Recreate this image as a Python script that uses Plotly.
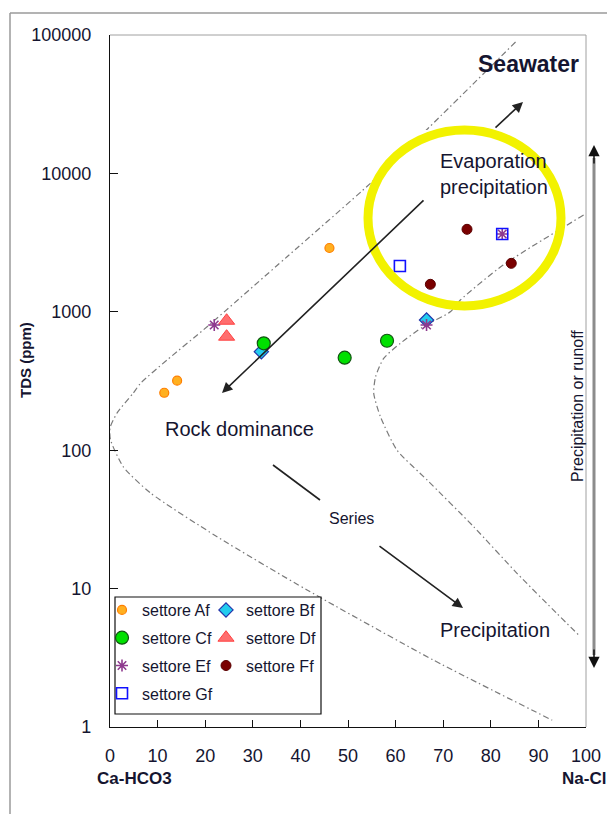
import plotly.graph_objects as go

# ---------------- data ----------------
af_x = [11.4, 14.1, 46.1]
af_y = [260, 318, 2890]
bf_x = [31.8, 66.5]
bf_y = [515, 873]
cf_x = [32.3, 49.3, 58.2]
cf_y = [592, 466, 618]
df_x = [24.5, 24.5]
df_y = [862, 661]
ef_x = [21.9, 66.5, 82.4]
ef_y = [803, 803, 3648]
ff_x = [75.0, 84.3, 67.3]
ff_y = [3945, 2240, 1580]
gf_x = [60.9, 82.4]
gf_y = [2143, 3648]

# Gibbs boundary curves
left_x = [85.2, 66.9, 54.7, 37.2, 20.4, 12.0, 6.4, 4.9, 1.5, 0.0, 0.1, 2.8, 8.5, 22.5, 41.4, 67.9, 92.9]
left_y = [89000, 21300, 8470, 2500, 780, 449, 304, 259, 186, 145, 119, 75.7, 49.1, 23.7, 9.77, 3.05, 1.12]
right_x = [99.5, 82.6, 73.6, 71.5, 65.8, 61.0, 57.5, 55.8, 55.4, 56.8, 60.3, 66.6, 76.4, 85.5, 93.9, 98.8]
right_y = [5000, 2178, 1216, 1000, 780, 592, 461, 340, 258, 175, 100, 61, 28, 12.9, 6.6, 4.5]

x_ticks = [0, 10, 20, 30, 40, 50, 60, 70, 80, 90, 100]
y_ticks = [1, 10, 100, 1000, 10000, 100000]
y_tick_text = ["1", "10", "100", "1000", "10000", "100000"]

FONT = "Liberation Sans, Arial, sans-serif"
W, H = 607, 814
ML, MR, MT, MB = 110, 21, 35, 87
PW, PH = W - ML - MR, H - MT - MB


def px(x):
    return (x - ML) / PW


def py(y):
    return (H - MB - y) / PH


fig = go.Figure()

curve_style = dict(color="#7a7a7a", width=1.2, dash="6px,3px,1.5px,3px", shape="spline", smoothing=0.6)
fig.add_trace(go.Scatter(x=left_x, y=left_y, mode="lines", line=curve_style,
                         showlegend=False, hoverinfo="skip"))
fig.add_trace(go.Scatter(x=right_x, y=right_y, mode="lines", line=curve_style,
                         showlegend=False, hoverinfo="skip"))

series = [
    ("settore Af", af_x, af_y, dict(symbol="circle", size=9, color="#FFB020",
                                     line=dict(color="#FF7F00", width=1.2)), "legend"),
    ("settore Bf", bf_x, bf_y, dict(symbol="diamond", size=11, color="#22CCEE",
                                     line=dict(color="#2233AA", width=1.2)), "legend2"),
    ("settore Cf", cf_x, cf_y, dict(symbol="circle", size=13, color="#00E000",
                                     line=dict(color="#115511", width=1.2)), "legend"),
    ("settore Df", df_x, df_y, dict(symbol="triangle-up", size=14, color="#FF6E6E",
                                     line=dict(color="#FF4040", width=1)), "legend2"),
    ("settore Ef", ef_x, ef_y, dict(symbol="asterisk-open", size=10, color="#8E3A8E",
                                     line=dict(color="#8E3A8E", width=1.6)), "legend"),
    ("settore Ff", ff_x, ff_y, dict(symbol="circle", size=10, color="#7A0000",
                                     line=dict(color="#5A0000", width=1)), "legend2"),
    ("settore Gf", gf_x, gf_y, dict(symbol="square-open", size=11, color="#1010FF",
                                     line=dict(color="#1010FF", width=1.6)), "legend"),
]
for name, xs, ys, mk, lg in series:
    fig.add_trace(go.Scatter(x=xs, y=ys, mode="markers", name=name, marker=mk,
                             legend=lg, legendgroup=name))

shapes = []
# outer page frame
shapes.append(dict(type="line", xref="paper", yref="paper", x0=px(10), x1=px(620), y0=py(13), y1=py(13),
                   line=dict(color="#9a9a9a", width=1.5), layer="above"))
shapes.append(dict(type="line", xref="paper", yref="paper", x0=px(10), x1=px(10), y0=py(13), y1=py(830),
                   line=dict(color="#9a9a9a", width=1.5), layer="above"))
# plot top/right border (gray)
shapes.append(dict(type="line", xref="paper", yref="paper", x0=0, x1=1, y0=1, y1=1,
                   line=dict(color="#a0a0a0", width=1), layer="above"))
shapes.append(dict(type="line", xref="paper", yref="paper", x0=1, x1=1, y0=0, y1=1,
                   line=dict(color="#a0a0a0", width=1), layer="above"))
# white text box behind "Evaporation precipitation"
shapes.append(dict(type="rect", xref="paper", yref="paper", x0=px(376), x1=px(558), y0=py(196), y1=py(130),
                   fillcolor="white", line=dict(width=0), layer="above"))
# yellow highlight ellipse
shapes.append(dict(type="circle", xref="paper", yref="paper", x0=px(368), x1=px(561), y0=py(306), y1=py(130),
                   line=dict(color="#F2F200", width=9), layer="above"))
# legend box
shapes.append(dict(type="rect", xref="paper", yref="paper", x0=px(115), x1=px(321), y0=py(714), y1=py(597),
                   fillcolor="white", line=dict(color="#111", width=1.2), layer="above"))
# "Series" upper segment
shapes.append(dict(type="line", xref="paper", yref="paper", x0=px(273), x1=px(320), y0=py(465), y1=py(500),
                   line=dict(color="#222", width=1.6), layer="above"))
# vertical arrow shaft (precipitation or runoff)
shapes.append(dict(type="line", xref="paper", yref="paper", x0=px(594), x1=px(594), y0=py(158), y1=py(655),
                   line=dict(color="#8c8c8c", width=3), layer="above"))

ann = []


def text(t, x, y, size, bold=False, angle=0, xanchor="center", align="center"):
    ann.append(dict(text=("<b>%s</b>" % t) if bold else t, xref="paper", yref="paper", x=px(x), y=py(y),
                    xanchor=xanchor, yanchor="middle", showarrow=False, textangle=angle, align=align,
                    font=dict(family=FONT, size=size, color="#151530")))


def arrow(hx, hy, tx, ty, width=1.6, size=1.3, color="#222"):
    ann.append(dict(text="", xref="paper", yref="paper", x=px(hx), y=py(hy), ax=tx - hx, ay=ty - hy,
                    axref="pixel", ayref="pixel", showarrow=True, arrowhead=2, arrowsize=size,
                    arrowwidth=width, arrowcolor=color, standoff=0))


text("Seawater", 528, 64, 23, bold=True)
text("Evaporation<br>precipitation", 438, 174, 20, xanchor="left", align="left")
text("Rock dominance", 239, 429, 20)
text("Series", 351, 518, 16)
text("Precipitation", 495, 630, 20)
text("Precipitation or runoff", 577, 406, 16, angle=-90)
text("Ca-HCO3", 134, 778, 17, bold=True)
text("Na-Cl", 584, 778, 17, bold=True)
text("TDS (ppm)", 25, 360, 15, bold=True, angle=-90)

arrow(222, 393, 425, 199)
arrow(523, 102, 494, 129)
arrow(463, 608, 378, 545)
arrow(594, 145, 594, 165, width=1.5, size=1.5, color="#111")
arrow(594, 668, 594, 648, width=1.5, size=1.5, color="#111")

legend_common = dict(orientation="v", yanchor="top", xanchor="left", bgcolor="rgba(0,0,0,0)",
                     borderwidth=0, font=dict(family=FONT, size=16, color="#151530"),
                     tracegroupgap=4, itemclick=False, itemdoubleclick=False)

fig.update_layout(
    width=W, height=H,
    margin=dict(l=ML, r=MR, t=MT, b=MB, autoexpand=False),
    paper_bgcolor="white", plot_bgcolor="white",
    font=dict(family=FONT, color="#151530"),
    showlegend=True,
    legend=dict(x=px(102), y=py(593), **legend_common),
    legend2=dict(x=px(206), y=py(593), **legend_common),
    xaxis=dict(range=[0, 100], tickvals=x_ticks, ticks="inside", ticklen=7, tickcolor="#111",
               showline=True, linecolor="#111", linewidth=1.2, showgrid=False, zeroline=False,
               tickfont=dict(family=FONT, size=18, color="#151530"), ticklabelstandoff=12),
    yaxis=dict(type="log", range=[0, 5], tickvals=y_ticks, ticktext=y_tick_text, ticks="inside",
               ticklen=8, tickcolor="#111", showline=True, linecolor="#111", linewidth=1.2,
               showgrid=False, zeroline=False,
               tickfont=dict(family=FONT, size=18, color="#151530"), ticklabelstandoff=14),
    shapes=shapes,
    annotations=ann,
)

fig.write_html("out.html", config={"displayModeBar": False},
               post_script="document.body.style.margin='0px';document.body.style.overflow='hidden';")
